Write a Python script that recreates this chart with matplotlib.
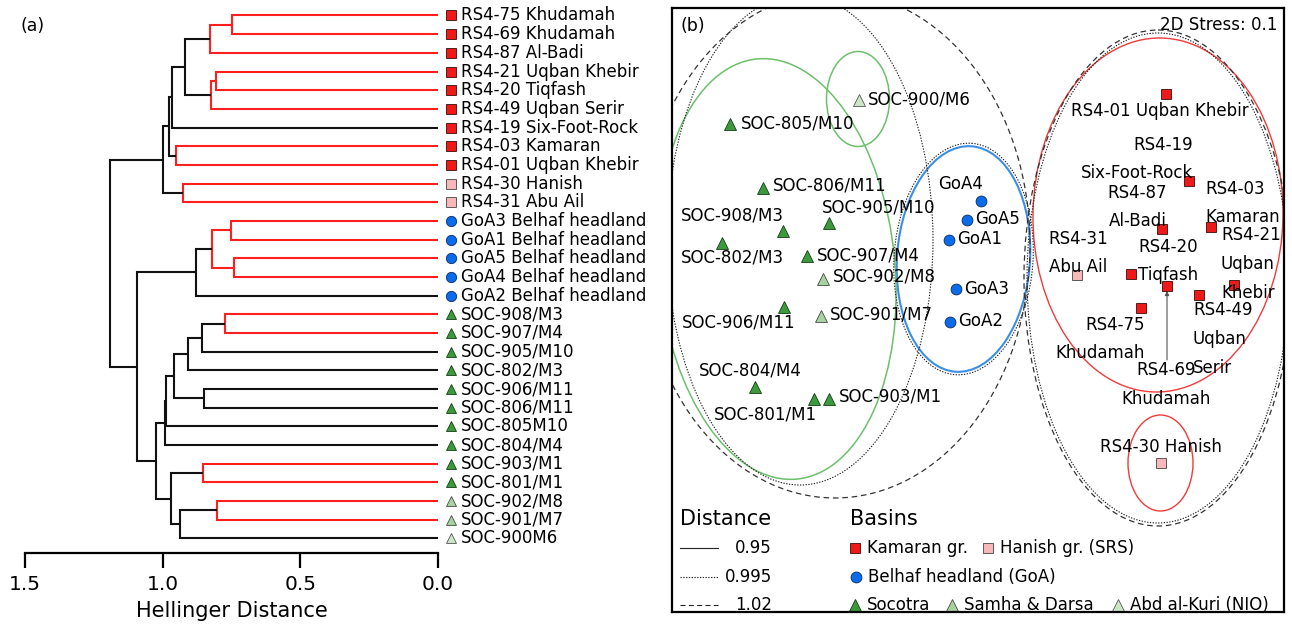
import matplotlib
matplotlib.use('Agg')
import matplotlib.pyplot as plt
from matplotlib.patches import Ellipse

plt.rcParams['font.family'] = ['DejaVu Sans']

W, H = 1292, 624

# ---------------- data: dendrogram ----------------
leaf_labels = ['RS4-75 Khudamah', 'RS4-69 Khudamah', 'RS4-87 Al-Badi', 'RS4-21 Uqban Khebir',
               'RS4-20 Tiqfash', 'RS4-49 Uqban Serir', 'RS4-19 Six-Foot-Rock', 'RS4-03 Kamaran',
               'RS4-01 Uqban Khebir', 'RS4-30 Hanish', 'RS4-31 Abu Ail',
               'GoA3 Belhaf headland', 'GoA1 Belhaf headland', 'GoA5 Belhaf headland',
               'GoA4 Belhaf headland', 'GoA2 Belhaf headland',
               'SOC-908/M3', 'SOC-907/M4', 'SOC-905/M10', 'SOC-802/M3', 'SOC-906/M11',
               'SOC-806/M11', 'SOC-805M10', 'SOC-804/M4', 'SOC-903/M1', 'SOC-801/M1',
               'SOC-902/M8', 'SOC-901/M7', 'SOC-900M6']
leaf_groups = ['K'] * 9 + ['H'] * 2 + ['G'] * 5 + ['S'] * 10 + ['D'] * 2 + ['A']

# merges (scipy-like: nodes 0..28 are leaves, merge k creates node 29+k)
merge_left = [0, 29, 3, 31, 30, 33, 7, 34, 9, 36, 11, 13, 39, 41,
              16, 43, 44, 20, 45, 47, 48, 24, 26, 51, 50, 49, 42, 38]
merge_right = [1, 2, 4, 5, 32, 6, 8, 35, 10, 37, 12, 14, 40, 15,
               17, 18, 19, 21, 46, 22, 23, 25, 27, 28, 52, 53, 54, 55]
merge_height = [0.748, 0.828, 0.805, 0.825, 0.920, 0.966, 0.952, 0.976, 0.925, 0.999,
                0.753, 0.742, 0.821, 0.880,
                0.772, 0.856, 0.907, 0.849, 0.960, 0.987, 0.992, 0.854, 0.804, 0.938,
                0.968, 1.024, 1.094, 1.191]
merge_red = [1, 1, 1, 1, 0, 0, 1, 0, 1, 0,
             1, 1, 1, 0,
             1, 0, 0, 0, 0, 0, 0, 1, 1, 0,
             0, 0, 0, 0]

dist_ticks = [1.5, 1.0, 0.5, 0.0]
dist_tick_labels = ['1.5', '1.0', '0.5', '0.0']

# ---------------- data: NMDS ----------------
nmds_names = ['RS4-75', 'RS4-69', 'RS4-87', 'RS4-21', 'RS4-20', 'RS4-49', 'RS4-19', 'RS4-03',
              'RS4-01', 'RS4-30', 'RS4-31', 'GoA3', 'GoA1', 'GoA5', 'GoA4', 'GoA2',
              'SOC-908/M3', 'SOC-907/M4', 'SOC-905/M10', 'SOC-802/M3', 'SOC-906/M11',
              'SOC-806/M11', 'SOC-805/M10', 'SOC-804/M4', 'SOC-903/M1', 'SOC-801/M1',
              'SOC-902/M8', 'SOC-901/M7', 'SOC-900/M6']
nmds_groups = leaf_groups
nmds_x = [1141, 1167, 1162, 1234, 1131, 1199, 1189, 1211, 1166, 1161, 1077,
          956, 949, 967, 981, 950,
          783, 807, 829, 722, 784, 763, 730, 755, 829, 814, 823, 821, 859]
nmds_y = [308, 286, 229, 285, 274, 295, 181, 227, 94, 463, 275,
          289, 240, 220, 201, 322,
          231, 256, 223, 243, 307, 188, 124, 387, 399, 399, 279, 316, 100]

# point labels: text, x, y, horizontal alignment
nmds_text = ['SOC-900/M6', 'SOC-805/M10', 'SOC-806/M11', 'SOC-905/M10', 'SOC-908/M3',
             'SOC-802/M3', 'SOC-907/M4', 'SOC-902/M8', 'SOC-906/M11', 'SOC-901/M7',
             'SOC-804/M4', 'SOC-801/M1', 'SOC-903/M1',
             'GoA4', 'GoA5', 'GoA1', 'GoA3', 'GoA2',
             'RS4-01 Uqban Khebir', 'RS4-19\nSix-Foot-Rock', 'RS4-87\nAl-Badi',
             'RS4-03\nKamaran', 'RS4-21\nUqban\nKhebir', 'RS4-31\nAbu Ail',
             'RS4-20\nTiqfash', 'RS4-49\nUqban\nSerir', 'RS4-75\nKhudamah',
             'RS4-69\nKhudamah', 'RS4-30 Hanish']
nmds_text_x = [868, 741, 773, 822, 681, 681, 817, 833, 682, 830, 699, 714, 839,
               938, 975, 957, 964, 958,
               1160, 1193, 1167, 1205, 1221, 1078, 1198, 1193, 1145, 1166, 1161]
nmds_text_y = [100, 123, 186, 207, 215, 258, 255, 277, 323, 315, 371, 415, 397,
               184, 219, 239, 289, 321,
               111, 159, 207, 203, 264, 253, 261, 339, 339, 384.5, 447]
nmds_text_ha = ['left'] * 18 + ['center', 'right', 'right', 'left', 'left', 'center',
                                'right', 'left', 'right', 'center', 'center']

# ellipses: centre x, centre y, width, height, angle, kind
ell_cx = [1158, 1160.5, 963.5, 777, 858, 1158, 963.5, 800, 1158, 835]
ell_cy = [215, 463, 259, 269, 99, 278, 259, 240, 278, 245]
ell_w = [250, 65, 133, 236, 63, 262, 139, 266, 268, 390]
ell_h = [354, 96, 226, 422, 95, 490, 232, 490, 496, 506]
ell_ang = [1, 0, 4, -5.4, 0, 0, 4, 0, 0, 0]
ell_kind = ['red', 'red', 'blue', 'green', 'green', 'dot', 'dot', 'dot', 'dash', 'dash']

legend_dist = ['0.95', '0.995', '1.02']

style = {
    'K': dict(marker='s', fc='#EE1A1A', ec='#3a0a0a', name='Kamaran gr.'),
    'H': dict(marker='s', fc='#F6B8B8', ec='#444444', name='Hanish gr. (SRS)'),
    'G': dict(marker='o', fc='#0A6CEB', ec='#0a2a66', name='Belhaf headland (GoA)'),
    'S': dict(marker='^', fc='#3C9A3C', ec='#143d14', name='Socotra'),
    'D': dict(marker='^', fc='#A6D39E', ec='#4a4a4a', name='Samha & Darsa'),
    'A': dict(marker='^', fc='#CDE7C6', ec='#555555', name='Abd al-Kuri (NIO)'),
}
ms_map = {'s': 7.2, 'o': 7.8, '^': 8.2}

fig = plt.figure(figsize=(W / 100, H / 100), dpi=100)

# ---------------- panel (a) dendrogram ----------------
ax1 = fig.add_axes([25 / W, 1 - 553 / H, 413 / W, 545 / H])
n = len(leaf_labels)
ypos = {i: float(i) for i in range(n)}
hgt = {i: 0.0 for i in range(n)}
red_c = '#FF1F1F'
for k, (l, r, h, red) in enumerate(zip(merge_left, merge_right, merge_height, merge_red)):
    node = n + k
    col = red_c if red else '#111111'
    ax1.plot([hgt[l], h, h, hgt[r]], [ypos[l], ypos[l], ypos[r], ypos[r]],
             color=col, lw=1.5, solid_capstyle='butt', solid_joinstyle='miter')
    ypos[node] = (ypos[l] + ypos[r]) / 2
    hgt[node] = h

ax1.set_xlim(1.5, 0.0)
ax1.set_ylim(28.78, -0.4)
for s in ['top', 'right', 'left']:
    ax1.spines[s].set_visible(False)
ax1.spines['bottom'].set_linewidth(1.6)
ax1.spines['bottom'].set_bounds(1.5, 0.0)
ax1.set_xticks(dist_ticks)
ax1.set_xticklabels(dist_tick_labels)
ax1.tick_params(axis='x', direction='out', length=11, width=1.6, labelsize=14.5, pad=5)
ax1.set_yticks([])
ax1.set_xlabel('Hellinger Distance', fontsize=15, labelpad=5)

tr = ax1.get_yaxis_transform()
mx = (451 - 25) / 413
tx = (461 - 25) / 413
for i, (lab, g) in enumerate(zip(leaf_labels, leaf_groups)):
    st = style[g]
    ax1.plot([mx], [i], marker=st['marker'], ms=ms_map[st['marker']] * 0.95,
             mfc=st['fc'], mec=st['ec'], mew=0.6, transform=tr, clip_on=False, ls='none')
    ax1.text(tx, i, lab, transform=tr, fontsize=12, va='center', ha='left')

fig.text(21 / W, 1 - 26 / H, '(a)', fontsize=12.5, va='center', ha='left')

# ---------------- panel (b) NMDS ----------------
ax2 = fig.add_axes([671.5 / W, 1 - 611.7 / H, 612.5 / W, 603.4 / H])
ax2.set_xlim(671.5, 1284)
ax2.set_ylim(611.7, 8.3)
ax2.set_xticks([])
ax2.set_yticks([])
for s in ax2.spines.values():
    s.set_linewidth(1.6)

kind_style = {
    'red': dict(ec='#EE3B3B', lw=1.0, ls='-'),
    'blue': dict(ec='#3A8EE6', lw=1.5, ls='-'),
    'green': dict(ec='#6CBF6C', lw=1.1, ls='-'),
    'dot': dict(ec='#222222', lw=0.8, ls=(0, (1.2, 1.3))),
    'dash': dict(ec='#333333', lw=0.9, ls=(0, (4.5, 3))),
}
for cx, cy, w, h, a, kd in zip(ell_cx, ell_cy, ell_w, ell_h, ell_ang, ell_kind):
    ks = kind_style[kd]
    ax2.add_patch(Ellipse((cx, cy), w, h, angle=a, fill=False, ec=ks['ec'],
                          lw=ks['lw'], ls=ks['ls'], zorder=2))

# arrow for RS4-69 label
i69 = nmds_names.index('RS4-69')
ax2.annotate('', xy=(nmds_x[i69], nmds_y[i69] + 5), xytext=(nmds_x[i69], 360),
             arrowprops=dict(arrowstyle='-|>', color='#555555', lw=0.8,
                             mutation_scale=6, shrinkA=0, shrinkB=0), zorder=3)

for g in ['K', 'H', 'G', 'S', 'D', 'A']:
    xs = [x for x, gg in zip(nmds_x, nmds_groups) if gg == g]
    ys = [y for y, gg in zip(nmds_y, nmds_groups) if gg == g]
    st = style[g]
    ax2.plot(xs, ys, ls='none', marker=st['marker'], ms=ms_map[st['marker']],
             mfc=st['fc'], mec=st['ec'], mew=0.6, zorder=4)

for t, x, y, ha in zip(nmds_text, nmds_text_x, nmds_text_y, nmds_text_ha):
    ax2.text(x, y, t, fontsize=12, ha=ha, va='center', multialignment=ha,
             linespacing=1.78, zorder=5)

ax2.text(1277, 25, '2D Stress: 0.1', fontsize=12, ha='right', va='center')
fig.text(681 / W, 1 - 26 / H, '(b)', fontsize=12.5, va='center', ha='left')

# legend: Distance
ax2.text(680, 519, 'Distance', fontsize=15, ha='left', va='center')
for lab, yy, ks in zip(legend_dist, [548, 577, 605], ['-', (0, (1.2, 1.3)), (0, (4.5, 3))]):
    ax2.plot([680, 718], [yy, yy], color='#222222', lw=0.8, ls=ks)
    ax2.text(772, yy, lab, fontsize=12, ha='right', va='center')

# legend: Basins
ax2.text(850, 519, 'Basins', fontsize=15, ha='left', va='center')
leg_items = [('K', 855, 548), ('H', 988, 548), ('G', 856, 577),
             ('S', 855, 605), ('D', 952, 605), ('A', 1118, 605)]
for g, xx, yy in leg_items:
    st = style[g]
    ax2.plot([xx], [yy], ls='none', marker=st['marker'], ms=ms_map[st['marker']],
             mfc=st['fc'], mec=st['ec'], mew=0.6)
    ax2.text(xx + 12, yy, st['name'], fontsize=12, ha='left', va='center')

fig.savefig('out.png', dpi=100)
